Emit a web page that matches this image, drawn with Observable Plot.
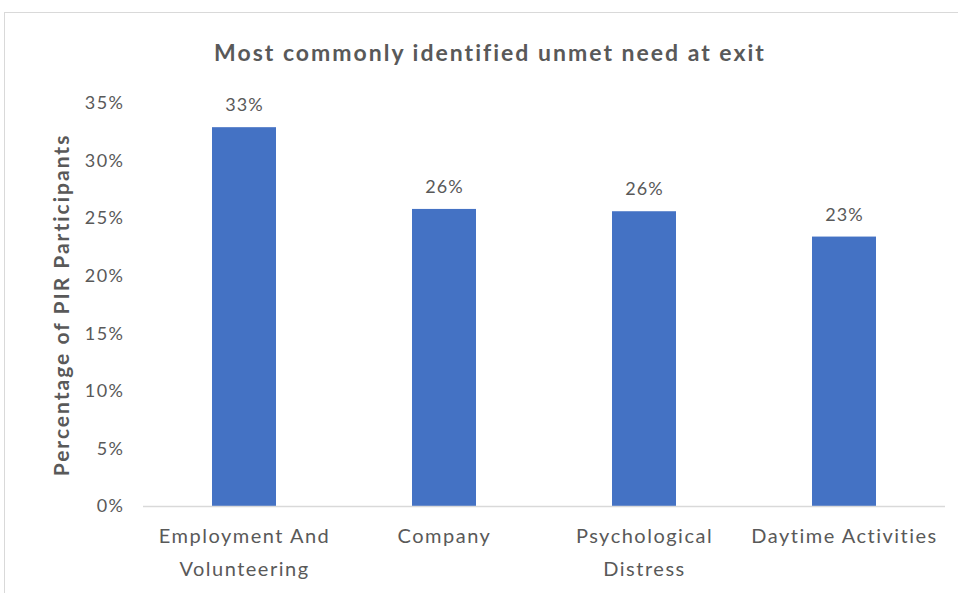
<!DOCTYPE html>
<html>
<head>
<meta charset="utf-8">
<script src="https://cdn.jsdelivr.net/npm/d3@7"></script>
<script src="https://cdn.jsdelivr.net/npm/@observablehq/plot@0.6"></script>
<style>
  html, body { margin: 0; padding: 0; background: #fff; }
  #wrap { position: relative; width: 958px; height: 593px; overflow: hidden; font-family: Lato, "Open Sans", sans-serif; }
  #frame { position: absolute; left: 4px; top: 12px; width: 980px; height: 620px; border-top: 1px solid #d9d9d9; border-left: 1px solid #d9d9d9; }
  #title { position: absolute; left: 0; width: 980px; top: 38px; text-align: center; font-weight: bold; font-size: 23px; color: #595959; letter-spacing: 2px; }
  #chart { position: absolute; left: 0; top: 0; }
</style>
</head>
<body>
<div id="wrap">
  <div id="frame"></div>
  <div id="chart"></div>
  <div id="title">Most commonly identified unmet need at exit</div>
</div>
<script>
const categories = ["Employment And\nVolunteering", "Company", "Psychological\nDistress", "Daytime Activities"];
const values = [32.9, 25.8, 25.6, 23.4];
const valueLabels = ["33%", "26%", "26%", "23%"];
const yTicks = [0, 5, 10, 15, 20, 25, 30, 35];

const data = categories.map((c, i) => ({category: c, value: values[i], label: valueLabels[i]}));

const textColor = "#595959";

const chart = Plot.plot({
  width: 958,
  height: 593,
  marginTop: 103,
  marginBottom: 87,
  marginLeft: 143,
  marginRight: 13,
  style: {fontFamily: "Lato, 'Open Sans', sans-serif", color: textColor, background: "transparent"},
  x: {domain: categories, paddingInner: 0.68, paddingOuter: 0.34},
  y: {domain: [0, 35]},
  marks: [
    Plot.barY(data, {x: "category", y: "value", fill: "#4472C4"}),
    Plot.ruleY([0], {stroke: "#d9d9d9", strokeWidth: 1.5}),
    Plot.text(data, {x: "category", y: "value", text: "label", dy: -22, fontSize: 18, fill: textColor}),
    Plot.axisY({
      ticks: yTicks, tickSize: 0, tickPadding: 19, fontSize: 18,
      tickFormat: d => d + "%",
      label: "Percentage of PIR Participants", labelAnchor: "center", labelArrow: "none",
      labelOffset: 89
    }),
    Plot.axisX({
      tickSize: 0, tickPadding: 13, fontSize: 20, label: null, lineHeight: 1.65
    })
  ]
});

document.getElementById("chart").appendChild(chart);
chart.querySelectorAll("g[aria-label='y-axis label'] text").forEach(t => {
  t.setAttribute("font-weight", "bold");
  t.setAttribute("font-size", "21");
  t.setAttribute("letter-spacing", "2");
});
chart.querySelectorAll("g[aria-label='y-axis tick label'] text").forEach(t => t.setAttribute("letter-spacing", "1.5"));
chart.querySelectorAll("g[aria-label='x-axis tick label'] text").forEach(t => t.setAttribute("letter-spacing", "1.5"));
chart.querySelectorAll("g[aria-label='text'] text").forEach(t => t.setAttribute("letter-spacing", "1"));
</script>
</body>
</html>
